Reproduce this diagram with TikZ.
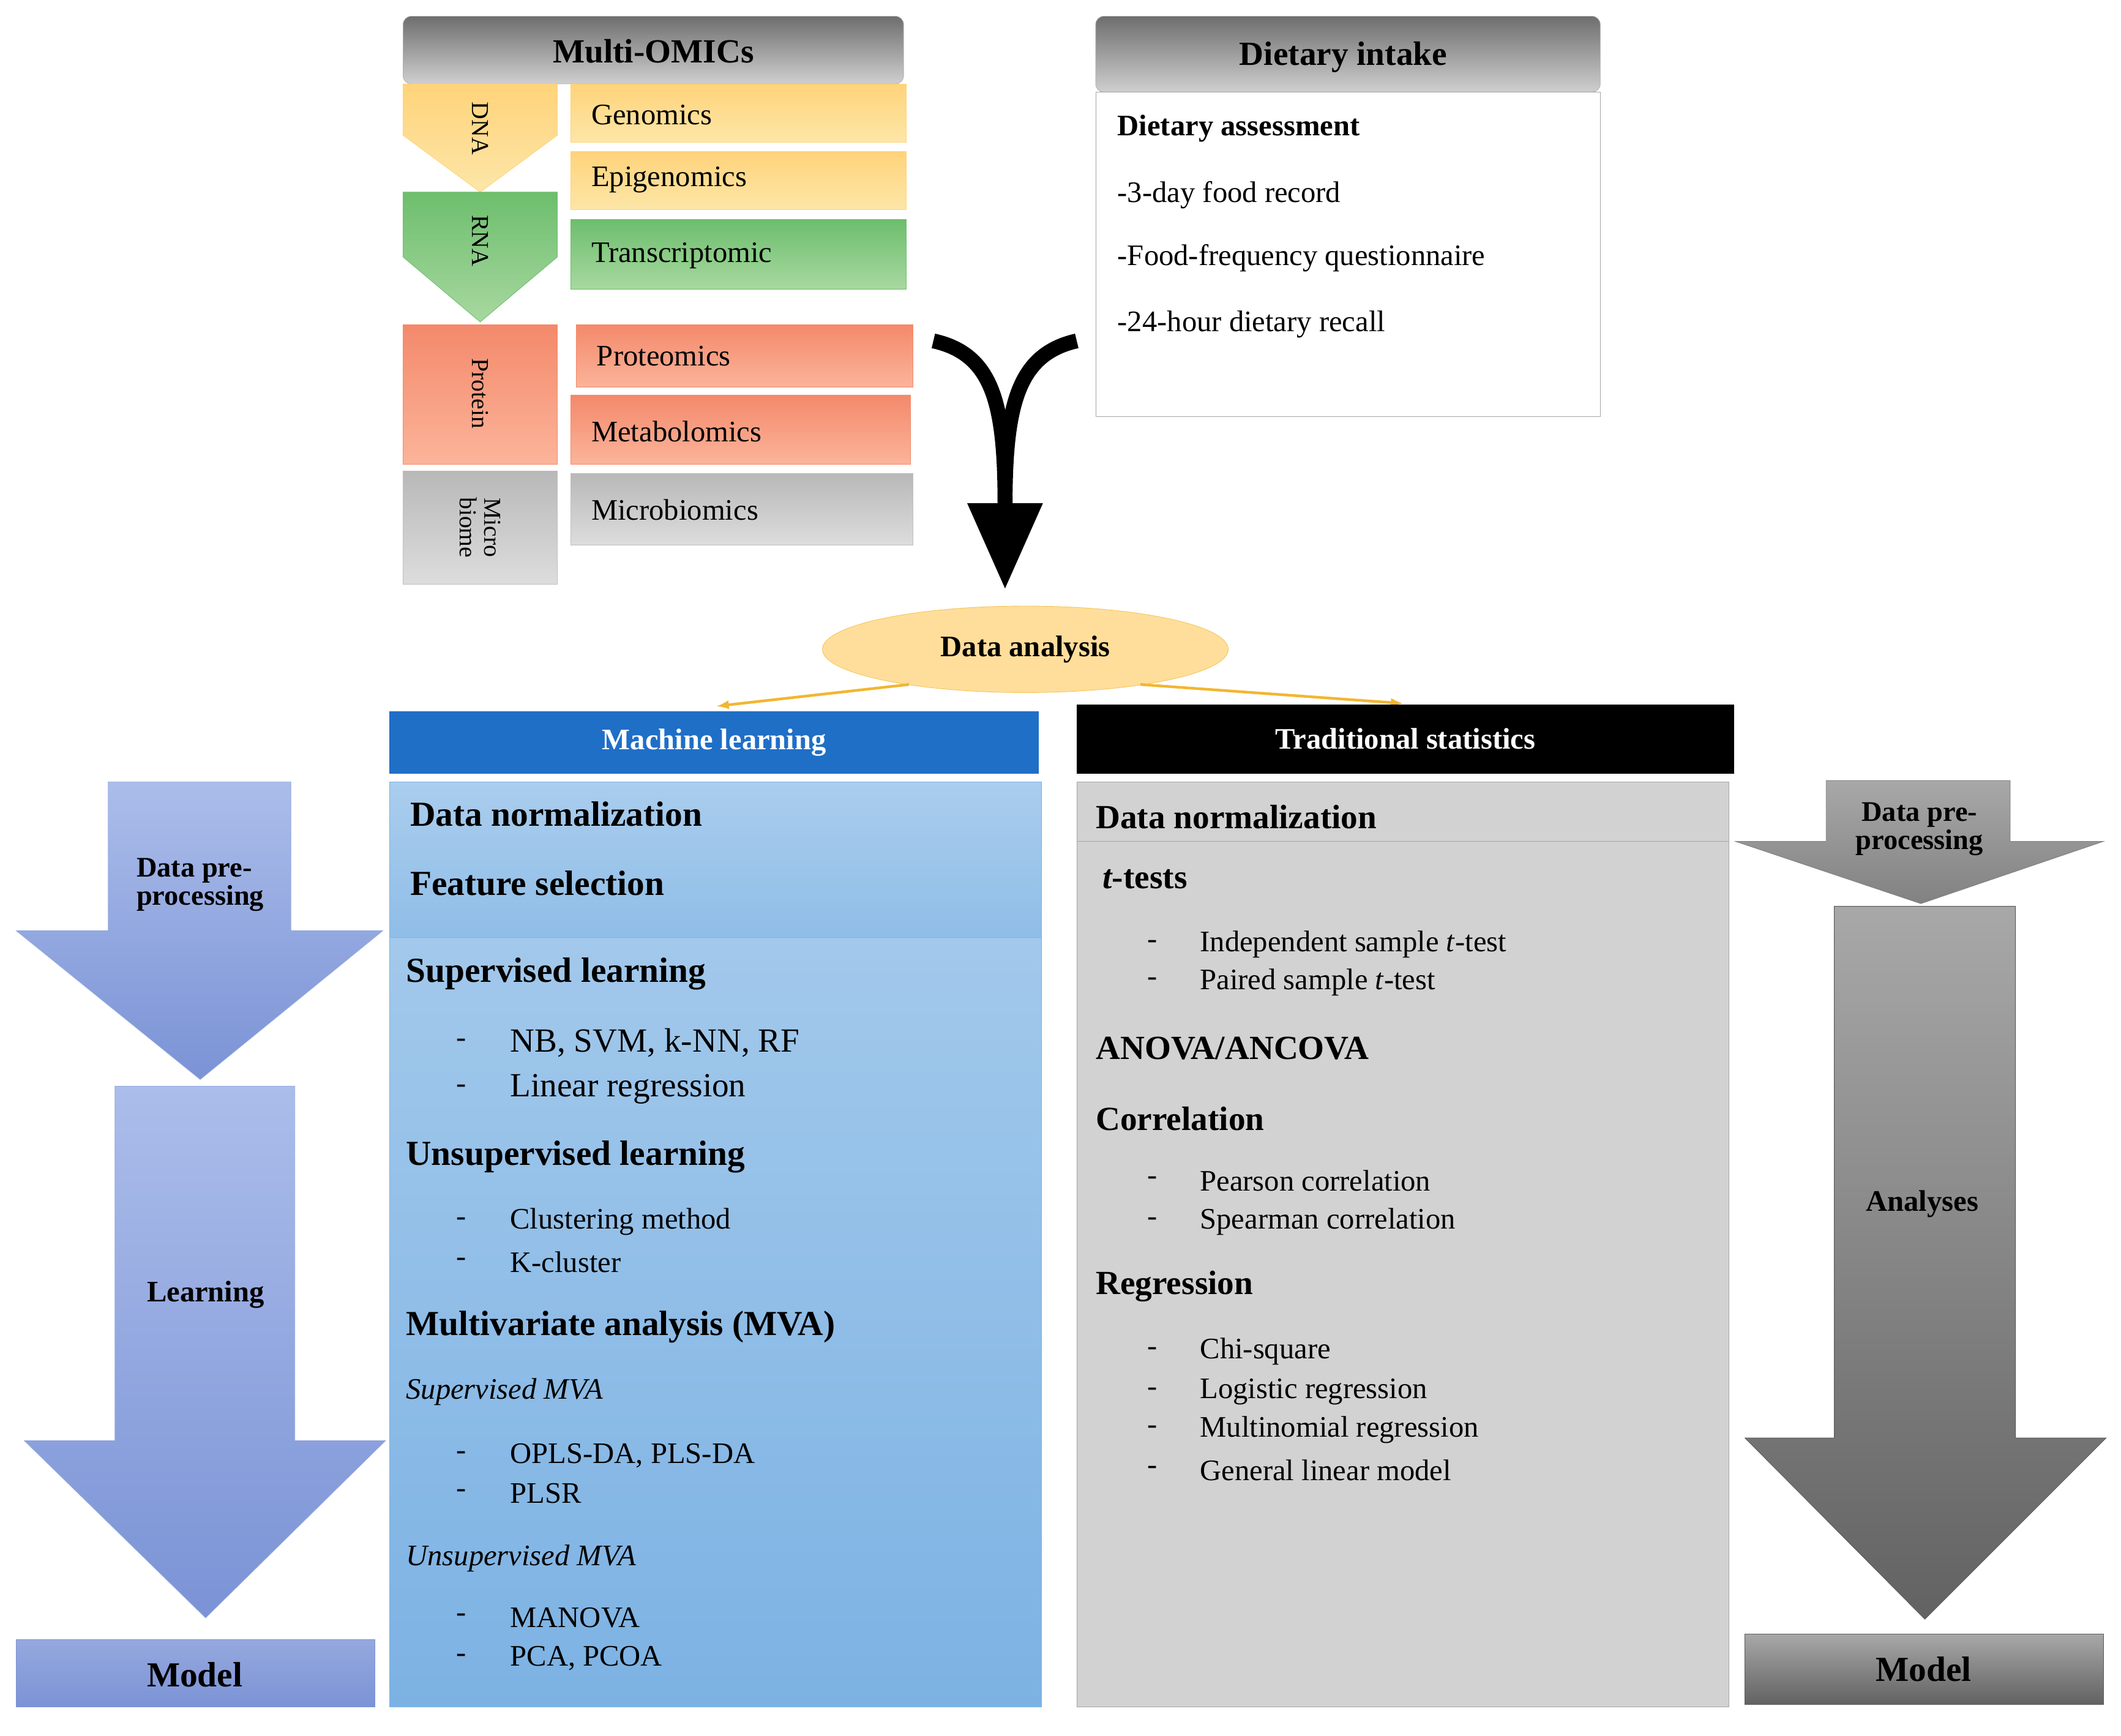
\documentclass[tikz,border=0pt]{standalone}
\usepackage{fontspec}
\setmainfont{Liberation Serif}
\usetikzlibrary{shapes.geometric}
\definecolor{yel}{HTML}{FFD37A}\definecolor{yelL}{HTML}{FCE6A8}
\definecolor{grn}{HTML}{6DBE6D}\definecolor{grnL}{HTML}{A8D8A0}
\definecolor{sal}{HTML}{F4896B}\definecolor{salL}{HTML}{FBB49A}
\definecolor{gryD}{HTML}{B8B8B8}\definecolor{gryL}{HTML}{DDDDDD}
\definecolor{hdD}{HTML}{6E6E6E}\definecolor{hdL}{HTML}{CFCFCF}
\definecolor{mlblue}{HTML}{1F6FC7}
\definecolor{bluT}{HTML}{AACDED}\definecolor{bluB}{HTML}{7CB2E3}
\definecolor{arT}{HTML}{ABBDEA}\definecolor{arB}{HTML}{7B93D6}
\definecolor{tsg}{HTML}{D2D2D2}
\definecolor{raT}{HTML}{A8A8A8}\definecolor{raB}{HTML}{626262}
\definecolor{orng}{HTML}{F2B630}
\newcommand{\fs}[1]{\fontsize{#1}{#1}\selectfont}
\tikzset{
 hdr/.style={rounded corners=6pt,top color=hdD,bottom color=hdL,draw=gray!60},
 omic/.style={anchor=west,inner sep=0pt,font=\fs{22}},
 t/.style={anchor=west,inner sep=0pt,font=\fs{22}},
 tb/.style={anchor=west,inner sep=0pt,font=\bfseries\fs{25}},
 tbig/.style={anchor=west,inner sep=0pt,font=\bfseries\fs{26}},
 ti/.style={anchor=west,inner sep=0pt,font=\itshape\fs{22}},
 dsh/.style={anchor=west,inner sep=0pt,font=\fs{22}},
}
\begin{document}
\begin{tikzpicture}[x=1pt,y=-1pt]
\useasboundingbox (0,0) rectangle (1568,1283);
% Multi-OMICs
\draw[hdr] (298,12) rectangle (668,62);
\node[font=\bfseries\fs{25}] (mo) at (483,38) {Multi-OMICs};
\shade[top color=yel,bottom color=yelL,draw=yel] (298,62) -- (412,62) -- (412,100) -- (355,142) -- (298,100) -- cycle;
\node[rotate=-90,font=\fs{18}] (dna) at (355,95) {DNA};
\shade[top color=grn,bottom color=grnL,draw=grn] (298,142) -- (355,142) -- (412,142) -- (412,190) -- (355,238) -- (298,190) -- cycle;
\node[rotate=-90,font=\fs{18}] (rna) at (355,178) {RNA};
\shade[top color=sal,bottom color=salL,draw=sal] (298,240) rectangle (412,343);
\node[rotate=-90,font=\fs{18}] (prot) at (355,291) {Protein};
\shade[top color=gryD,bottom color=gryL,draw=gray!50] (298,348) rectangle (412,432);
\node[rotate=-90,font=\fs{18},align=center] (mic) at (355,390) {Micro\\biome};
\shade[top color=yel,bottom color=yelL,draw=yel] (422,62) rectangle (670,105);
\node[omic] (g) at (437,85) {Genomics};
\shade[top color=yel,bottom color=yelL,draw=yel] (422,112) rectangle (670,155);
\node[omic] (e) at (437,133) {Epigenomics};
\shade[top color=grn,bottom color=grnL,draw=grn] (422,162) rectangle (670,214);
\node[omic] (tr) at (437,189) {Transcriptomic};
\shade[top color=sal,bottom color=salL,draw=sal] (426,240) rectangle (675,286);
\node[omic] (pr) at (441,263) {Proteomics};
\shade[top color=sal,bottom color=salL,draw=sal] (422,292) rectangle (673,343);
\node[omic] (me) at (437,319) {Metabolomics};
\shade[top color=gryD,bottom color=gryL,draw=gray!50] (422,350) rectangle (675,403);
\node[omic] (mb) at (437,377) {Microbiomics};
% Dietary
\draw[hdr] (810,12) rectangle (1183,68);
\node[font=\bfseries\fs{25}] (di) at (993,42) {Dietary intake};
\draw[gray!70,fill=white] (810,68) rectangle (1183,308);
\node[anchor=west,inner sep=0pt,font=\bfseries\fs{22}] (da) at (826,95) {Dietary assessment};
\node[t] (d1) at (826,144) {-3-day food record};
\node[t] (d2) at (826,191) {-Food-frequency questionnaire};
\node[t] (d3) at (826,240) {-24-hour dietary recall};
% merge arrow
\draw[line width=11pt] (690,252) .. controls (735,262) and (743,300) .. (743,375);
\draw[line width=11pt] (796,252) .. controls (752,262) and (743,300) .. (743,375);
\fill (715,372) -- (771,372) -- (743,435) -- cycle;
% Data analysis
\node[ellipse,draw=orng!80,fill=yel!75,minimum width=300pt,minimum height=64pt,font=\bfseries\fs{22}] (dan) at (758,480) {Data analysis};
\coordinate (mlt) at (530,522);
\coordinate (tst) at (1037,520);
\draw[orng,line width=2pt,-latex] (672,506) -- (mlt);
\draw[orng,line width=2pt,-latex] (843,506) -- (tst);
% ML
\fill[mlblue] (288,526) rectangle (768,572);
\node[text=white,font=\bfseries\fs{22}] (ml) at (528,549) {Machine learning};
\shade[top color=bluT,bottom color=bluB,draw=bluB] (288,578) rectangle (770,1262);
\shade[top color=bluT,bottom color=bluB!85,draw=bluB] (288,578) rectangle (770,693);
\node[tbig] (m1) at (303,602) {Data normalization};
\node[tbig] (m2) at (303,653) {Feature selection};
\node[tbig] (m3) at (300,720) {Supervised learning};
\node[dsh] at (337,771) {-};\node[t,font=\fs{25}] (m4) at (377,771) {NB, SVM, k-NN, RF};
\node[dsh] at (337,805) {-};\node[t,font=\fs{25}] (m5) at (377,805) {Linear regression};
\node[tbig] (m6) at (300,855) {Unsupervised learning};
\node[dsh] at (337,903) {-};\node[t] (m7) at (377,903) {Clustering method};
\node[dsh] at (337,933) {-};\node[t] (m8) at (377,933) {K-cluster};
\node[tbig] (m9) at (300,981) {Multivariate analysis (MVA)};
\node[ti] (m10) at (300,1029) {Supervised MVA};
\node[dsh] at (337,1076) {-};\node[t] (m11) at (377,1076) {OPLS-DA, PLS-DA};
\node[dsh] at (337,1104) {-};\node[t] (m12) at (377,1104) {PLSR};
\node[ti] (m13) at (300,1152) {Unsupervised MVA};
\node[dsh] at (337,1196) {-};\node[t] (m14) at (377,1196) {MANOVA};
\node[dsh] at (337,1226) {-};\node[t] (m15) at (377,1226) {PCA, PCOA};
% TS
\fill[black] (796,521) rectangle (1282,572);
\node[text=white,font=\bfseries\fs{22}] (ts) at (1039,546) {Traditional statistics};
\fill[tsg,draw=gray!70] (796,578) rectangle (1278,1262);
\fill[gray!35,draw=gray!70] (796,578) rectangle (1278,622);
\node[tb] (s1) at (810,604) {Data normalization};
\node[tb] (s2) at (815,650) {\itshape t\upshape-tests};
\node[dsh] at (848,698) {-};\node[t] (s3) at (887,698) {Independent sample \textit{t}-test};
\node[dsh] at (848,726) {-};\node[t] (s4) at (887,726) {Paired sample \textit{t}-test};
\node[tb] (s5) at (810,775) {ANOVA/ANCOVA};
\node[tb] (s6) at (810,827) {Correlation};
\node[dsh] at (848,873) {-};\node[t] (s7) at (887,873) {Pearson correlation};
\node[dsh] at (848,903) {-};\node[t] (s8) at (887,903) {Spearman correlation};
\node[tb] (s9) at (810,951) {Regression};
\node[dsh] at (848,999) {-};\node[t] (s10) at (887,999) {Chi-square};
\node[dsh] at (848,1029) {-};\node[t] (s11) at (887,1029) {Logistic regression};
\node[dsh] at (848,1057) {-};\node[t] (s12) at (887,1057) {Multinomial regression};
\node[dsh] at (848,1087) {-};\node[t] (s13) at (887,1087) {General linear model};
% left arrows
\shade[top color=arT,bottom color=arB,draw=arB!80] (80,578) -- (215,578) -- (215,688) -- (283,688) -- (148,798) -- (12,688) -- (80,688) -- cycle;
\node[font=\bfseries\fs{21},align=left] (lp) at (148,654) {Data pre-\\processing};
\shade[top color=arT,bottom color=arB,draw=arB!80] (85,803) -- (218,803) -- (218,1065) -- (285,1065) -- (152,1196) -- (18,1065) -- (85,1065) -- cycle;
\node[font=\bfseries\fs{22}] (ll) at (152,957) {Learning};
\shade[top color=arB!80,bottom color=arB,draw=arB] (12,1212) rectangle (277,1262);
\node[font=\bfseries\fs{26}] (lm) at (144,1238) {Model};
% right arrows
\shade[top color=raT,bottom color=raB!80,draw=gray] (1350,577) -- (1486,577) -- (1486,622) -- (1555,622) -- (1420,668) -- (1283,622) -- (1350,622) -- cycle;
\node[font=\bfseries\fs{21},align=center] (rp) at (1419,613) {Data pre-\\processing};
\shade[top color=raT,bottom color=raB,draw=gray!70!black] (1356,670) -- (1490,670) -- (1490,1063) -- (1557,1063) -- (1423,1197) -- (1290,1063) -- (1356,1063) -- cycle;
\node[font=\bfseries\fs{22}] (ra) at (1421,890) {Analyses};
\shade[top color=raT,bottom color=raB,draw=gray!70!black] (1290,1208) rectangle (1555,1260);
\node[font=\bfseries\fs{26}] (rm) at (1422,1234) {Model};
\end{tikzpicture}
\end{document}
